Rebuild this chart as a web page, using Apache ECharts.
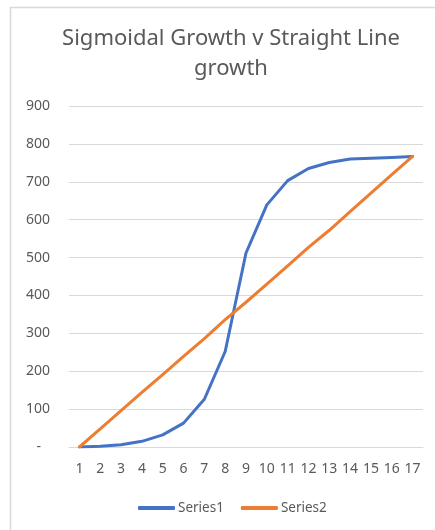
<!DOCTYPE html>
<html>
<head>
<meta charset="utf-8">
<script src="https://cdn.jsdelivr.net/npm/echarts@6/dist/echarts.min.js"></script>
<style>
  html, body { margin: 0; padding: 0; background: #fff; }
  #chart { width: 435px; height: 530px; }
</style>
</head>
<body>
<div id="chart"></div>
<script>
// x categories
const categories = ['1','2','3','4','5','6','7','8','9','10','11','12','13','14','15','16','17'];
// sigmoidal growth
const series1 = [0, 2, 6, 15, 32, 63, 126, 252, 512, 639, 703, 735, 751, 760, 762, 764, 767];
// straight line growth
const series2 = [0, 48, 96, 144, 191, 239, 286, 336, 382, 430, 478, 527, 572, 621, 670, 719, 767];
// y axis ticks
const yTicks = { min: 0, max: 900, step: 100 };

const FONT = "'Noto Sans', sans-serif";
const GREY = '#595959';

const chart = echarts.init(document.getElementById('chart'), null, { renderer: 'canvas' });
chart.setOption({
  animation: false,
  backgroundColor: '#fff',
  graphic: [{
    type: 'rect',
    shape: { x: 10.5, y: 7.5, width: 600, height: 700 },
    style: { fill: 'none', stroke: '#d9d9d9', lineWidth: 1.5 },
    silent: true
  }],
  title: {
    text: 'Sigmoidal Growth v Straight Line\ngrowth',
    left: 226,
    top: 19,
    textAlign: 'center',
    textStyle: { fontFamily: FONT, fontSize: 22, fontWeight: 'normal', color: GREY, lineHeight: 30 }
  },
  grid: { left: 69, right: 12, top: 106, bottom: 83, containLabel: false },
  legend: {
    data: [
      { name: 'Series1', icon: 'roundRect' },
      { name: 'Series2', icon: 'roundRect' }
    ],
    left: 133,
    top: 496,
    itemWidth: 37,
    itemHeight: 4,
    itemGap: 17,
    textStyle: { fontFamily: FONT, fontSize: 13.5, color: GREY, padding: [0, 0, 0, -2] }
  },
  xAxis: {
    type: 'category',
    data: categories,
    boundaryGap: true,
    axisLine: { show: true, lineStyle: { color: '#d9d9d9', width: 1 } },
    axisTick: { show: false },
    axisLabel: { interval: 0, margin: 15, fontFamily: FONT, fontSize: 14, color: GREY }
  },
  yAxis: {
    type: 'value',
    min: yTicks.min,
    max: yTicks.max,
    interval: yTicks.step,
    axisLine: { show: false },
    axisTick: { show: false },
    splitLine: { lineStyle: { color: '#d9d9d9', width: 1 } },
    axisLabel: {
      margin: 19,
      fontFamily: FONT,
      fontSize: 14,
      color: GREY,
      formatter: v => v === 0 ? '{d|-}' : String(v),
      rich: { d: { fontFamily: FONT, fontSize: 14, color: GREY, padding: [0, 9, 0, 0] } }
    }
  },
  series: [
    {
      name: 'Series1',
      type: 'line',
      data: series1,
      symbol: 'none',
      lineStyle: { color: '#4472C4', width: 3, cap: 'round', join: 'round' },
      itemStyle: { color: '#4472C4' }
    },
    {
      name: 'Series2',
      type: 'line',
      data: series2,
      symbol: 'none',
      lineStyle: { color: '#ED7D31', width: 3, cap: 'round', join: 'round' },
      itemStyle: { color: '#ED7D31' }
    }
  ]
});
</script>
</body>
</html>
